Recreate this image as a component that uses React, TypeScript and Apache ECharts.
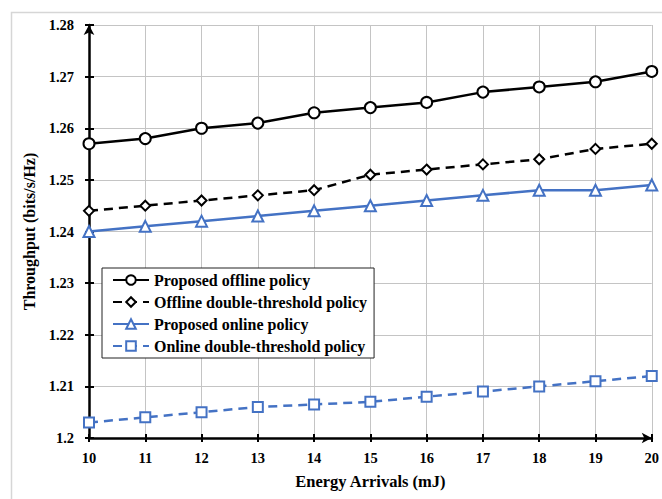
import React, { useEffect, useRef } from "react";
import * as echarts from "echarts";

const energyArrivals = [10, 11, 12, 13, 14, 15, 16, 17, 18, 19, 20];
const proposedOffline = [1.257, 1.258, 1.26, 1.261, 1.263, 1.264, 1.265, 1.267, 1.268, 1.269, 1.271];
const offlineDoubleThreshold = [1.244, 1.245, 1.246, 1.247, 1.248, 1.251, 1.252, 1.253, 1.254, 1.256, 1.257];
const proposedOnline = [1.24, 1.241, 1.242, 1.243, 1.244, 1.245, 1.246, 1.247, 1.248, 1.248, 1.249];
const onlineDoubleThreshold = [1.203, 1.204, 1.205, 1.206, 1.2065, 1.207, 1.208, 1.209, 1.21, 1.211, 1.212];

const seriesNames = [
  "Proposed offline policy",
  "Offline double-threshold policy",
  "Proposed online policy",
  "Online double-threshold policy",
];

const FONT = "'Liberation Serif', 'Times New Roman', serif";
const BLUE = "#4472C4";

const pairs = (ys: number[]) => energyArrivals.map((x, i) => [x, ys[i]]);

export default function App() {
  const ref = useRef<HTMLDivElement>(null);

  useEffect(() => {
    if (!ref.current) return;
    const chart = echarts.init(ref.current, undefined, { renderer: "svg" });

    const mkSeries = (
      name: string,
      ys: number[],
      color: string,
      symbol: string,
      size: number,
      dashed: boolean
    ) => ({
      name,
      type: "line",
      data: pairs(ys),
      symbol,
      symbolSize: size,
      showAllSymbol: true,
      lineStyle: { color, width: 2.5, type: dashed ? [9, 6] : "solid" },
      itemStyle: { color: "#ffffff", borderColor: color, borderWidth: 2 },
      z: 5,
    });

    chart.setOption({
      animation: false,
      backgroundColor: "#ffffff",
      textStyle: { fontFamily: FONT },
      graphic: [
        {
          type: "rect",
          left: 9,
          top: 10,
          shape: { width: 700, height: 600 },
          style: { fill: "none", stroke: "#d6d6d6", lineWidth: 1.5 },
          silent: true,
          z: -10,
        },
      ],
      grid: { left: 89, right: 10, top: 25, bottom: 61, containLabel: false },
      legend: {
        orient: "vertical",
        left: 102,
        top: 268,
        data: seriesNames,
        backgroundColor: "#ffffff",
        borderColor: "#222222",
        borderWidth: 1,
        padding: [4, 7, 4, 10],
        itemWidth: 36,
        itemHeight: 12,
        itemGap: 6,
        textStyle: {
          fontFamily: FONT,
          fontWeight: "bold",
          fontSize: 16,
          lineHeight: 16,
          color: "#000000",
        },
        z: 10,
      },
      xAxis: [
        {
          type: "value",
          min: 10,
          max: 20,
          interval: 1,
          name: "Energy Arrivals (mJ)",
          nameLocation: "middle",
          nameGap: 35,
          nameTextStyle: { fontFamily: FONT, fontWeight: "bold", fontSize: 16.5, color: "#000" },
          axisLine: {
            show: true,
            onZero: false,
            symbol: ["none", "arrow"],
            symbolSize: [8, 10],
            lineStyle: { color: "#000", width: 2.5 },
          },
          axisTick: { show: true, inside: false, length: 4, lineStyle: { color: "#000", width: 2 } },
          axisLabel: { margin: 12, fontFamily: FONT, fontWeight: "bold", fontSize: 14.5, color: "#000" },
          splitLine: { show: true, lineStyle: { color: "#c4c4c4", width: 1 } },
        },
        {
          type: "value",
          position: "bottom",
          min: 10,
          max: 20,
          interval: 1,
          axisLine: { show: false },
          axisTick: { show: true, inside: true, length: 4, lineStyle: { color: "#000", width: 2 } },
          axisLabel: { show: false },
          splitLine: { show: false },
        },
      ],
      yAxis: [
        {
          type: "value",
          min: 1.2,
          max: 1.28,
          interval: 0.01,
          name: "Throughput (bits/s/Hz)",
          nameLocation: "middle",
          nameGap: 44,
          nameTextStyle: { fontFamily: FONT, fontWeight: "bold", fontSize: 16, color: "#000" },
          axisLine: {
            show: true,
            onZero: false,
            symbol: ["none", "arrow"],
            symbolSize: [8, 10],
            lineStyle: { color: "#000", width: 2.5 },
          },
          axisTick: { show: true, inside: false, length: 4, lineStyle: { color: "#000", width: 2 } },
          axisLabel: {
            margin: 15,
            fontFamily: FONT,
            fontWeight: "bold",
            fontSize: 14.5,
            color: "#000",
            formatter: (v: number) => String(Number(v.toFixed(2))),
          },
          splitLine: { show: true, lineStyle: { color: "#c4c4c4", width: 1 } },
        },
        {
          type: "value",
          position: "left",
          min: 1.2,
          max: 1.28,
          interval: 0.01,
          axisLine: { show: false },
          axisTick: { show: true, inside: true, length: 5, lineStyle: { color: "#000", width: 2 } },
          axisLabel: { show: false },
          splitLine: { show: false },
        },
      ],
      series: [
        mkSeries(seriesNames[0], proposedOffline, "#000000", "circle", 11, false),
        mkSeries(seriesNames[1], offlineDoubleThreshold, "#000000", "diamond", 10, true),
        mkSeries(seriesNames[2], proposedOnline, BLUE, "triangle", 11, false),
        mkSeries(seriesNames[3], onlineDoubleThreshold, BLUE, "rect", 10, true),
      ],
    });

    return () => chart.dispose();
  }, []);

  return (
    <div
      ref={ref}
      style={{ position: "fixed", left: 0, top: 0, width: 662, height: 499 }}
    />
  );
}
